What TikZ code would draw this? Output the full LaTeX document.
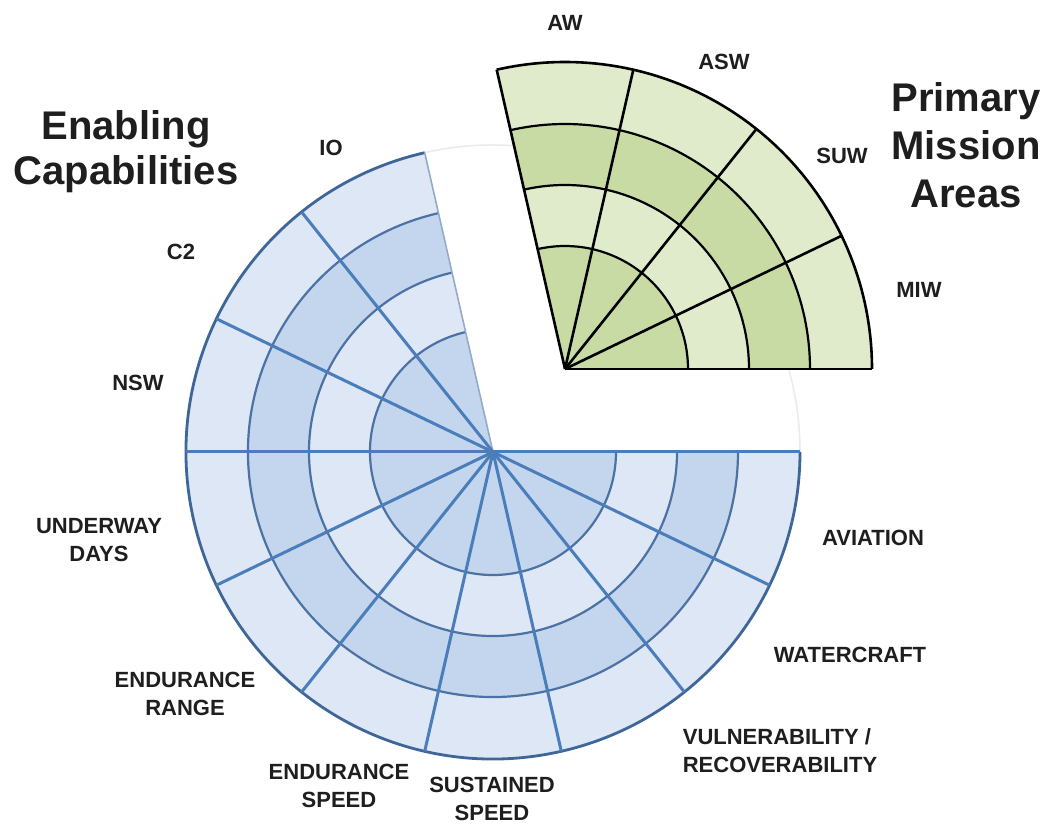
\documentclass[tikz,border=0pt]{standalone}
\usepackage{fontspec}
\setmainfont{Liberation Sans}
\definecolor{bluelight}{HTML}{DDE7F5}
\definecolor{bluemid}{HTML}{C4D6EE}
\definecolor{bluespoke}{HTML}{4A7DBA}
\definecolor{bluering}{HTML}{4C72A4}
\definecolor{blueouter}{HTML}{3F6698}
\definecolor{greenlight}{HTML}{E0EBCB}
\definecolor{greenmid}{HTML}{C9DBA4}
\definecolor{textcol}{HTML}{1E1E1E}
\tikzset{
  lab/.style={font=\bfseries\fontsize{22}{28}\selectfont, text=textcol, align=center, inner sep=0pt},
  ttl/.style={font=\bfseries\fontsize{40}{46}\selectfont, text=textcol, align=center, inner sep=0pt, anchor=base},
  bspoke/.style={draw=bluespoke, line width=3pt},
  bringline/.style={draw=bluering, line width=2.2pt},
  bouter/.style={draw=blueouter, line width=2.8pt},
  gline/.style={draw=black, line width=2.6pt},
  gring/.style={draw=black, line width=2.2pt},
  faint/.style={draw=black!8, line width=1.5pt}
}
\begin{document}
\begin{tikzpicture}[x=1pt,y=1pt]
\useasboundingbox (0,0) rectangle (1047,827);
\fill[white] (0,0) rectangle (1047,827);
\coordinate (B) at (493,375);
\coordinate (G) at (565,458);
\def\rA{123}\def\rB{184}\def\rC{245}\def\rD{307}
\def\bs{102.857}
% faint full circle
\draw[faint] (B) circle[radius=\rD];
% blue wedges
\fill[bluelight] (B) -- ++(\bs:\rD) arc[start angle=\bs,end angle=360,radius=\rD] -- cycle;
\fill[bluemid] (B) -- ++(\bs:\rC) arc[start angle=\bs,end angle=360,radius=\rC] -- cycle;
\fill[bluelight] (B) -- ++(\bs:\rB) arc[start angle=\bs,end angle=360,radius=\rB] -- cycle;
\fill[bluemid] (B) -- ++(\bs:\rA) arc[start angle=\bs,end angle=360,radius=\rA] -- cycle;
\foreach \r in {\rA,\rB,\rC}
  \draw[bringline] (B) ++(\bs:\r) arc[start angle=\bs,end angle=360,radius=\r];
\draw[bouter] (B) ++(\bs:\rD) arc[start angle=\bs,end angle=360,radius=\rD];
\draw[draw=bluering!60, line width=1.6pt] (B) -- ++(\bs:\rD);
\foreach \k in {1,...,10}
  \draw[bspoke] (B) -- ++({\bs+25.7143*\k}:\rD);
% green wedges
\fill[greenlight] (G) -- ++(0:\rD) arc[start angle=0,end angle=\bs,radius=\rD] -- cycle;
\fill[greenmid] (G) -- ++(0:\rC) arc[start angle=0,end angle=\bs,radius=\rC] -- cycle;
\fill[greenlight] (G) -- ++(0:\rB) arc[start angle=0,end angle=\bs,radius=\rB] -- cycle;
\fill[greenmid] (G) -- ++(0:\rA) arc[start angle=0,end angle=\bs,radius=\rA] -- cycle;
\foreach \r in {\rA,\rB,\rC}
  \draw[gring] (G) ++(0:\r) arc[start angle=0,end angle=\bs,radius=\r];
\draw[gline] (G) ++(0:\rD) arc[start angle=0,end angle=\bs,radius=\rD];
\foreach \k in {0,...,4}
  \draw[gline] (G) -- ++({25.7143*\k}:\rD);
% titles (anchor base = last line baseline)
\node[ttl, font=\bfseries\fontsize{40}{45}\selectfont] (ec) at (126,642) {Enabling\\Capabilities};
\node[ttl, font=\bfseries\fontsize{40}{48}\selectfont] (pma) at (966,619) {Primary\\Mission\\Areas};
% green labels
\node[lab] (aw) at (565,804) {AW};
\node[lab] (asw) at (724,765) {ASW};
\node[lab] (suw) at (842,671) {SUW};
\node[lab] (miw) at (919,537) {MIW};
% blue labels
\node[lab] (io) at (331,679) {IO};
\node[lab] (c2) at (181,575) {C2};
\node[lab] (nsw) at (138,444) {NSW};
\node[lab] (ud) at (99,287) {UNDERWAY\\DAYS};
\node[lab] (er) at (185,133) {ENDURANCE\\RANGE};
\node[lab] (es) at (339,41) {ENDURANCE\\SPEED};
\node[lab] (ss) at (492,28) {SUSTAINED\\SPEED};
\node[lab, align=left] (vr) at (780,76) {VULNERABILITY /\\RECOVERABILITY};
\node[lab] (wc) at (850,172) {WATERCRAFT};
\node[lab] (av) at (873,289) {AVIATION};
\end{tikzpicture}
\end{document}
